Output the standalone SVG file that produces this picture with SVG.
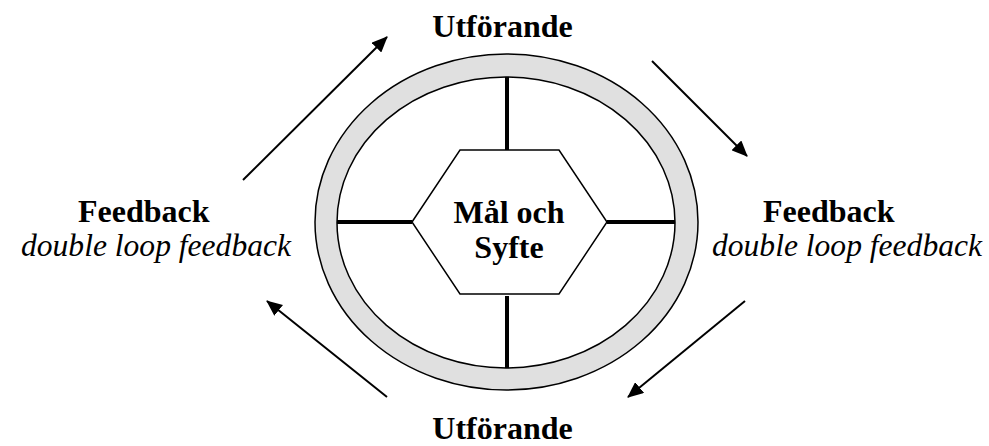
<svg xmlns="http://www.w3.org/2000/svg" width="989" height="446" viewBox="0 0 989 446">
<style>
.b{font-family:"Liberation Serif","Times New Roman",serif;font-size:32px;font-weight:bold;fill:#000}
.i{font-family:"Liberation Serif","Times New Roman",serif;font-size:31.5px;font-style:italic;fill:#000}
.spoke{stroke:#000;stroke-width:4;fill:none}
.arr{stroke:#000;stroke-width:2;fill:none;marker-end:url(#ah)}
</style>
<defs>
<marker id="ah" markerWidth="16" markerHeight="14" refX="15" refY="7" orient="auto" markerUnits="userSpaceOnUse">
<path d="M0,0 L16,7 L0,14 Z" fill="#000"/>
</marker>
</defs>
<rect width="989" height="446" fill="#fff"/>
<g id="ring">
<ellipse cx="506.5" cy="222" rx="191.5" ry="168" fill="#e0e0e0" stroke="#000" stroke-width="1.5"/>
<ellipse cx="506" cy="222.5" rx="169" ry="145.5" fill="#fff" stroke="#000" stroke-width="1.5"/>
</g>
<g id="spokes">
<line class="spoke" x1="507" y1="77" x2="507" y2="150"/>
<line class="spoke" x1="507" y1="296" x2="507" y2="368"/>
<line class="spoke" x1="337" y1="222" x2="412" y2="222"/>
<line class="spoke" x1="607" y1="222" x2="675" y2="222"/>
</g>
<g id="center">
<polygon points="412,222 460,150 559,150 607,222 559,294 460,294" fill="#fff" stroke="#000" stroke-width="1.5"/>
<text class="b" x="509" y="223" text-anchor="middle">Mål och</text>
<text class="b" x="509" y="258" text-anchor="middle">Syfte</text>
</g>
<g id="top-label"><text class="b" x="502.5" y="37" text-anchor="middle">Utförande</text></g>
<g id="bottom-label"><text class="b" x="502.5" y="439" text-anchor="middle">Utförande</text></g>
<g id="left-label">
<text class="b" x="78" y="222">Feedback</text>
<text class="i" x="21" y="256" textLength="270" lengthAdjust="spacingAndGlyphs">double loop feedback</text>
</g>
<g id="right-label">
<text class="b" x="763" y="222">Feedback</text>
<text class="i" x="712" y="256" textLength="270" lengthAdjust="spacingAndGlyphs">double loop feedback</text>
</g>
<g id="connectors">
<line class="arr" x1="243" y1="180" x2="387" y2="37"/>
<line class="arr" x1="652" y1="61" x2="747" y2="156"/>
<line class="arr" x1="745" y1="301" x2="628" y2="397"/>
<line class="arr" x1="387" y1="397" x2="267" y2="301"/>
</g>
</svg>
